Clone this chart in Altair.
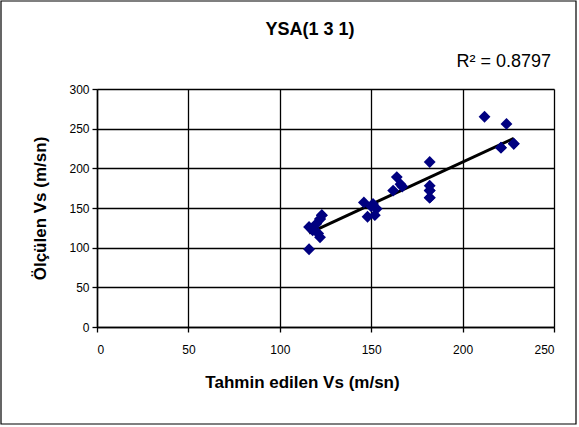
import altair as alt
import pandas as pd

# Data (some markers overlap)
tahmin = [116, 116, 118, 120, 121, 122, 122, 122, 123, 123,
          146, 148, 151, 152, 153, 150,
          162, 164, 166, 167,
          182, 182, 182, 182, 182, 182,
          212, 221, 221, 224, 228, 228]
olculen = [98, 126, 122, 130, 118, 113, 136, 136, 141, 141,
           157, 139, 155, 141, 149, 152,
           172, 189, 180, 177,
           208, 178, 172, 172, 163, 163,
           265, 226, 226, 256, 231, 231]
x_ticks = [0, 50, 100, 150, 200, 250]
y_ticks = [0, 50, 100, 150, 200, 250, 300]
title_text = "YSA(1 3 1)"
x_title = "Tahmin edilen Vs (m/sn)"
y_title = "Ölçülen Vs (m/sn)"
r2_label = "R² = 0.8797"

df = pd.DataFrame({"tahmin": tahmin, "olculen": olculen})

FONT = "Liberation Sans"
xscale = alt.Scale(domain=[0, 250], nice=False, zero=True)
yscale = alt.Scale(domain=[0, 300], nice=False, zero=True)

x_axis = alt.Axis(values=x_ticks, title=x_title, grid=True, gridColor="black",
                  gridWidth=1.3, domainColor="black", domainWidth=1.5,
                  tickColor="black", tickSize=5, tickWidth=1.3,
                  labelPadding=12, labelFontSize=12, labelColor="black",
                  labelFont=FONT, titleFont=FONT, titleFontSize=17,
                  titleFontWeight="bold", titleColor="black",
                  titleX=205, titleY=55, titleBaseline="middle", titleAlign="center")
y_axis = alt.Axis(values=y_ticks, title=y_title, grid=True, gridColor="black",
                  gridWidth=1.3, domainColor="black", domainWidth=1.5,
                  tickColor="black", tickSize=5, tickWidth=1.3,
                  labelPadding=3, labelFontSize=12, labelColor="black",
                  labelFont=FONT, titleFont=FONT, titleFontSize=17,
                  titleFontWeight="bold", titleColor="black",
                  titleX=-57, titleY=119, titleAngle=270,
                  titleBaseline="middle", titleAlign="center")

base = alt.Chart(df)

trend = base.transform_regression("tahmin", "olculen").mark_line(
    color="black", strokeWidth=3).encode(
    x=alt.X("tahmin:Q", scale=xscale, axis=x_axis),
    y=alt.Y("olculen:Q", scale=yscale, axis=y_axis),
)

points = base.mark_point(shape="diamond", filled=True, color="#000080",
                         size=140, opacity=1).encode(
    x=alt.X("tahmin:Q", scale=xscale, axis=x_axis),
    y=alt.Y("olculen:Q", scale=yscale, axis=y_axis),
)

labels = pd.DataFrame({"t": [title_text, r2_label]})

title = alt.Chart(labels).transform_filter(alt.datum.t == title_text).mark_text(
    align="center", baseline="middle", fontSize=18, fontWeight="bold",
    font=FONT, color="black"
).encode(x=alt.value(213), y=alt.value(-59), text="t:N")

r2 = alt.Chart(labels).transform_filter(alt.datum.t == r2_label).mark_text(
    align="right", baseline="middle", fontSize=18, font=FONT, color="black"
).encode(x=alt.value(454), y=alt.value(-27), text="t:N")

frame = alt.Chart(pd.DataFrame({"a": [0]})).mark_rect(
    fillOpacity=0, stroke="black", strokeWidth=1.2, clip=False
).encode(x=alt.value(-96), x2=alt.value(479), y=alt.value(-88), y2=alt.value(335))

chart = alt.layer(frame, trend, points, title, r2).properties(
    width=457, height=238,
    padding={"left": 97, "top": 89, "right": 25, "bottom": 100},
    autosize=alt.AutoSizeParams(type="none"),
).configure_view(stroke="#808080", strokeWidth=1.5).configure(background="white")

chart.save("out.html", embed_options={"renderer": "svg", "actions": False})
